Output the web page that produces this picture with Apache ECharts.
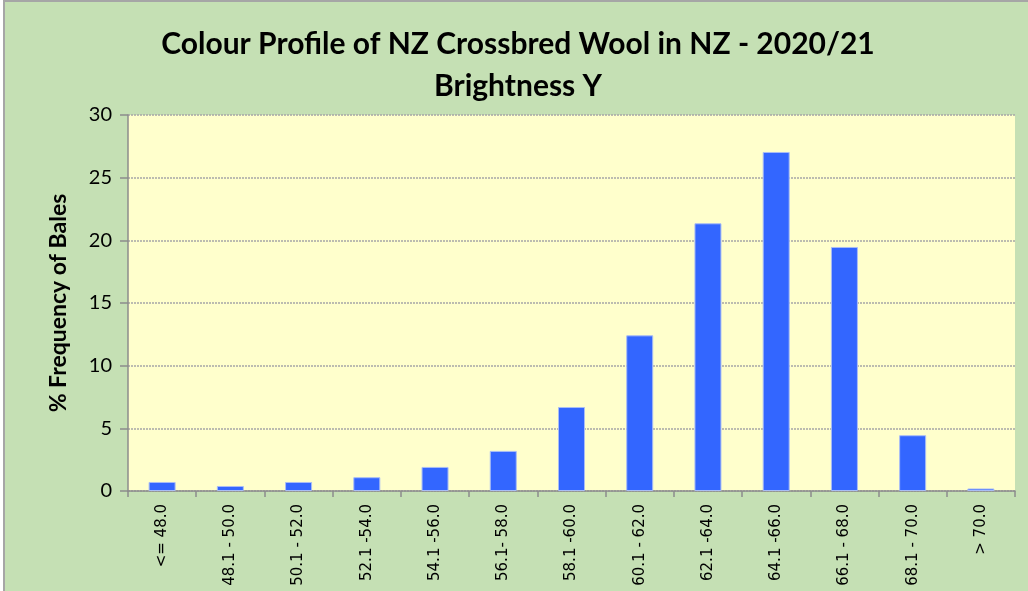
<!DOCTYPE html>
<html>
<head>
<meta charset="utf-8">
<script src="https://cdn.jsdelivr.net/npm/echarts@6/dist/echarts.min.js"></script>
<style>
  html, body { margin: 0; padding: 0; }
  #chart {
    width: 1028px;
    height: 591px;
    background: #c5e0b4;
    box-sizing: border-box;
    border-top: 2px solid #a6a6a6;
    border-left: 2px solid #a6a6a6;
    margin-left: 3px;
  }
</style>
</head>
<body>
<div id="chart"></div>
<script>
const categories = ['<= 48.0', '48.1 - 50.0', '50.1 - 52.0', '52.1 -54.0', '54.1 -56.0', '56.1- 58.0',
  '58.1 -60.0', '60.1 - 62.0', '62.1 -64.0', '64.1 -66.0', '66.1 - 68.0', '68.1 - 70.0', '> 70.0']
const frequency = [0.72, 0.4, 0.72, 1.1, 1.92, 3.2, 6.7, 12.42, 21.36, 27.05, 19.47, 4.45, 0.2]
const yTicks = [0, 5, 10, 15, 20, 25, 30]

const chart = echarts.init(document.getElementById('chart'))
chart.setOption({
  backgroundColor: '#c5e0b4',
  title: {
    text: 'Colour Profile of NZ Crossbred Wool in NZ - 2020/21\nBrightness Y',
    left: 'center',
    top: 16,
    textStyle: {
      fontFamily: 'Lato',
      fontSize: 30,
      fontWeight: 'bold',
      color: '#000',
      lineHeight: 42
    }
  },
  grid: {
    left: 123,
    right: 16,
    top: 113,
    bottom: 100,
    show: true,
    backgroundColor: '#ffffcc',
    borderWidth: 0
  },
  xAxis: {
    type: 'category',
    data: categories,
    axisLine: { lineStyle: { color: '#8c8c8c', width: 1.5 } },
    axisTick: { show: true, length: 6, lineStyle: { color: '#8c8c8c', width: 1.5 } },
    axisLabel: {
      interval: 0,
      rotate: 90,
      margin: 13,
      fontFamily: 'DejaVu Sans',
      fontSize: 15,
      color: '#000'
    }
  },
  yAxis: {
    type: 'value',
    min: yTicks[0],
    max: yTicks[yTicks.length - 1],
    interval: 5,
    name: '% Frequency of Bales',
    nameLocation: 'middle',
    nameGap: 58,
    nameTextStyle: {
      fontFamily: 'Lato',
      fontSize: 23,
      fontWeight: 'bold',
      color: '#000'
    },
    axisLine: { show: true, lineStyle: { color: '#8c8c8c', width: 1.5 } },
    axisTick: { show: true, length: 8, lineStyle: { color: '#8c8c8c', width: 1.5 } },
    axisLabel: {
      margin: 16,
      fontFamily: 'Lato',
      fontSize: 20,
      color: '#000'
    },
    splitLine: {
      lineStyle: { color: '#a6a6a6', type: [2, 1], width: 1.5 }
    }
  },
  series: [{
    type: 'bar',
    data: frequency,
    barWidth: 27,
    itemStyle: {
      color: '#3366ff',
      borderColor: '#a9bdf5',
      borderWidth: 1
    }
  }]
})
</script>
</body>
</html>
